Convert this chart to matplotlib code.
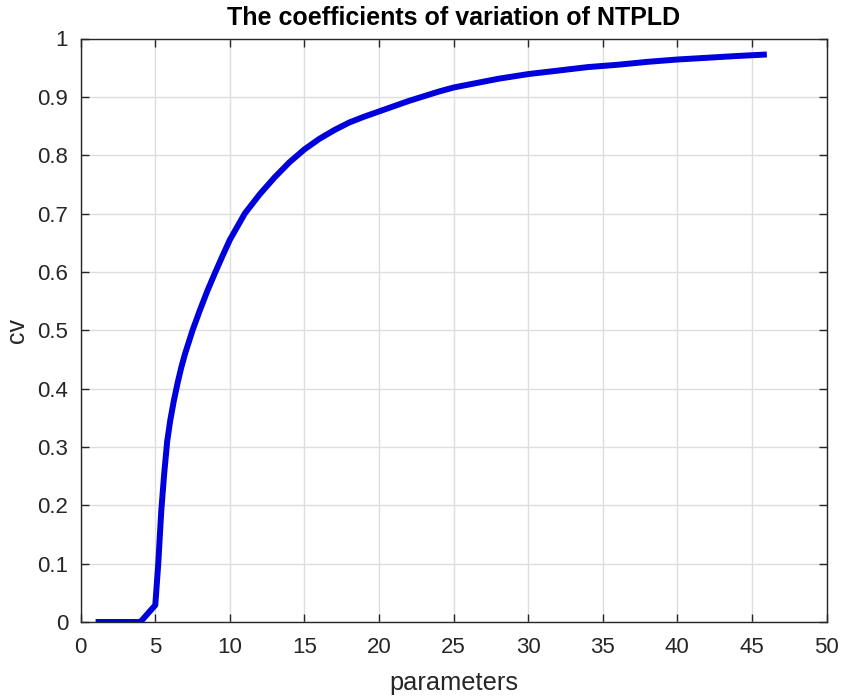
import matplotlib
matplotlib.use("Agg")
import matplotlib.pyplot as plt

# Coefficient of variation of NTPLD against the distribution parameter
parameters = [1, 2, 3, 4, 5, 5.2, 5.4, 5.6, 5.8, 6.0, 6.25, 6.5, 6.75, 7.0, 7.5,
              8.0, 8.5, 9.0, 9.5, 10, 11, 12, 13, 14, 15, 16, 17, 18, 19, 20,
              22, 24, 25, 26, 28, 30, 32, 34, 36, 38, 40, 42, 44, 46]
cv = [0.0, 0.0, 0.0, 0.0, 0.029, 0.10, 0.19, 0.255, 0.31, 0.345, 0.38, 0.41,
      0.437, 0.46, 0.50, 0.535, 0.568, 0.598, 0.627, 0.655, 0.70, 0.733, 0.762,
      0.788, 0.81, 0.828, 0.843, 0.856, 0.866, 0.875, 0.893, 0.909, 0.916,
      0.921, 0.931, 0.939, 0.945, 0.951, 0.955, 0.960, 0.964, 0.967, 0.970,
      0.9726]

x_ticks = list(range(0, 51, 5))
y_ticks = [i / 10 for i in range(11)]
y_tick_labels = ["0", "0.1", "0.2", "0.3", "0.4", "0.5", "0.6", "0.7", "0.8", "0.9", "1"]

plt.rcParams["font.family"] = ["Liberation Sans", "DejaVu Sans"]

W, H = 842, 697
fig = plt.figure(figsize=(W / 100, H / 100), dpi=100)
left, right, bottom, top = 80.7, 826.5, 622.0, 38.5
ax = fig.add_axes([left / W, (H - bottom) / H, (right - left) / W, (bottom - top) / H])

axis_color = "#262626"
ax.plot(parameters, cv, color="#0000dd", linewidth=4.3, solid_capstyle="butt",
        solid_joinstyle="round", zorder=3)

ax.set_xlim(0, 50)
ax.set_ylim(0, 1)
ax.set_xticks(x_ticks)
ax.set_yticks(y_ticks)
ax.set_yticklabels(y_tick_labels)
ax.grid(True, color="#dedede", linewidth=1.0)
ax.set_axisbelow(True)

for s in ax.spines.values():
    s.set_color(axis_color)
    s.set_linewidth(1.0)

ax.tick_params(axis="both", direction="in", length=6, width=1.0, color=axis_color,
               labelcolor=axis_color, labelsize=16, top=True, right=True)
ax.tick_params(axis="x", pad=11)
ax.tick_params(axis="y", pad=9)

ax.set_xlabel("parameters", fontsize=18.3, color=axis_color, labelpad=9)
ax.set_ylabel("cv", fontsize=18, color=axis_color, labelpad=6)
ax.set_title("The coefficients of variation of NTPLD", fontsize=18,
             fontweight="bold", color="#000000", pad=10)

fig.savefig("out.png", dpi=100, facecolor="white")
